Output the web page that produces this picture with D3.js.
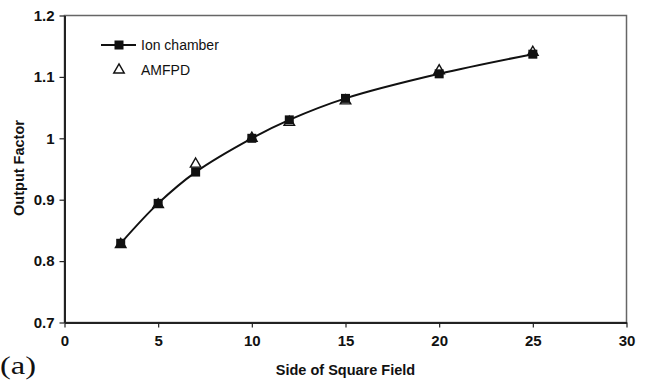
<!DOCTYPE html>
<html>
<head>
<meta charset="utf-8">
<script src="https://cdn.jsdelivr.net/npm/d3@7"></script>
<style>
  html, body { margin: 0; padding: 0; background: #fff; }
  svg { display: block; }
</style>
</head>
<body>
<svg id="chart" width="645" height="381"></svg>
<script>
// field sizes (side of square field, cm)
const fieldSizes = [3, 5, 7, 10, 12, 15, 20, 25];
// measured output factors
const ionChamber = [0.829, 0.894, 0.945, 1.0, 1.03, 1.065, 1.105, 1.137];
const amfpd = [0.827, 0.892, 0.958, 1.0, 1.026, 1.061, 1.11, 1.14];
const xTicks = [0, 5, 10, 15, 20, 25, 30];
const yTicks = [0.7, 0.8, 0.9, 1.0, 1.1, 1.2];

const width = 645, height = 381;
const margin = { top: 15.5, right: 18.5, bottom: 58.5, left: 64.5 };
const sans = '"Liberation Sans", Arial, sans-serif';

const svg = d3.select('#chart');
const x = d3.scaleLinear().domain([0, 30]).range([margin.left, width - margin.right]);
const y = d3.scaleLinear().domain([0.7, 1.2]).range([height - margin.bottom, margin.top]);

// plot frame (top + right in grey)
svg.append('rect')
  .attr('x', x(0)).attr('y', y(1.2))
  .attr('width', x(30) - x(0)).attr('height', y(0.7) - y(1.2))
  .attr('fill', 'none').attr('stroke', '#666').attr('stroke-width', 1.5);

const fmtY = d => d === 1 ? '1' : d3.format('.1f')(d);

const xAxis = svg.append('g')
  .attr('transform', `translate(0,${y(0.7)})`)
  .call(d3.axisBottom(x).tickValues(xTicks).tickSize(5).tickSizeOuter(0).tickPadding(8));
const yAxis = svg.append('g')
  .attr('transform', `translate(${x(0)},0)`)
  .call(d3.axisLeft(y).tickValues(yTicks).tickFormat(fmtY).tickSize(5).tickSizeOuter(0).tickPadding(5));

[xAxis, yAxis].forEach(g => {
  g.select('.domain').attr('stroke', '#222').attr('stroke-width', 2);
  g.selectAll('.tick line').attr('stroke', '#222').attr('stroke-width', 1.2);
  g.selectAll('.tick text')
    .attr('fill', '#111')
    .style('font-family', sans)
    .style('font-size', '15px')
    .style('font-weight', 'bold');
});

// axis titles
svg.append('text')
  .attr('x', (x(0) + x(30)) / 2).attr('y', 375)
  .attr('text-anchor', 'middle')
  .style('font-family', sans)
  .style('font-size', '14.5px').style('font-weight', 'bold')
  .attr('fill', '#111')
  .text('Side of Square Field');

svg.append('text')
  .attr('transform', `translate(24,${(y(0.7) + y(1.2)) / 2 - 1}) rotate(-90)`)
  .attr('text-anchor', 'middle')
  .style('font-family', sans)
  .style('font-size', '14.5px').style('font-weight', 'bold')
  .attr('fill', '#111')
  .text('Output Factor');

svg.append('text')
  .attr('transform', 'translate(0,374) scale(1.3,1)')
  .style('font-family', '"Liberation Serif", "Times New Roman", serif')
  .style('font-size', '25px')
  .attr('fill', '#111')
  .text('(a)');

// ion chamber curve (smoothed)
const line = d3.line()
  .x((d, i) => x(fieldSizes[i]))
  .y(d => y(d))
  .curve(d3.curveCatmullRom.alpha(0.5));

svg.append('path')
  .datum(ionChamber)
  .attr('d', line)
  .attr('fill', 'none')
  .attr('stroke', '#111')
  .attr('stroke-width', 2);

const tri = d3.symbol().type(d3.symbolTriangle).size(48);

// AMFPD triangles (open)
svg.append('g')
  .selectAll('path')
  .data(amfpd)
  .join('path')
  .attr('d', tri)
  .attr('transform', (d, i) => `translate(${x(fieldSizes[i])},${y(d)})`)
  .attr('fill', '#fff')
  .attr('stroke', '#111')
  .attr('stroke-width', 1.4);

// ion chamber squares
const sq = 9;
svg.append('g')
  .selectAll('rect')
  .data(ionChamber)
  .join('rect')
  .attr('x', (d, i) => x(fieldSizes[i]) - sq / 2)
  .attr('y', d => y(d) - sq / 2)
  .attr('width', sq).attr('height', sq)
  .attr('fill', '#111');

// legend
const legend = svg.append('g')
  .style('font-family', sans)
  .style('font-size', '14px')
  .attr('fill', '#111');
legend.append('line')
  .attr('x1', 101).attr('x2', 136).attr('y1', 45).attr('y2', 45)
  .attr('stroke', '#111').attr('stroke-width', 2);
legend.append('rect')
  .attr('x', 119 - sq / 2).attr('y', 45 - sq / 2).attr('width', sq).attr('height', sq)
  .attr('fill', '#111');
legend.append('text').attr('x', 141).attr('y', 50).text('Ion chamber');
legend.append('path')
  .attr('d', tri)
  .attr('transform', 'translate(119,70)')
  .attr('fill', '#fff').attr('stroke', '#111').attr('stroke-width', 1.4);
legend.append('text').attr('x', 141).attr('y', 75).text('AMFPD');
</script>
</body>
</html>
